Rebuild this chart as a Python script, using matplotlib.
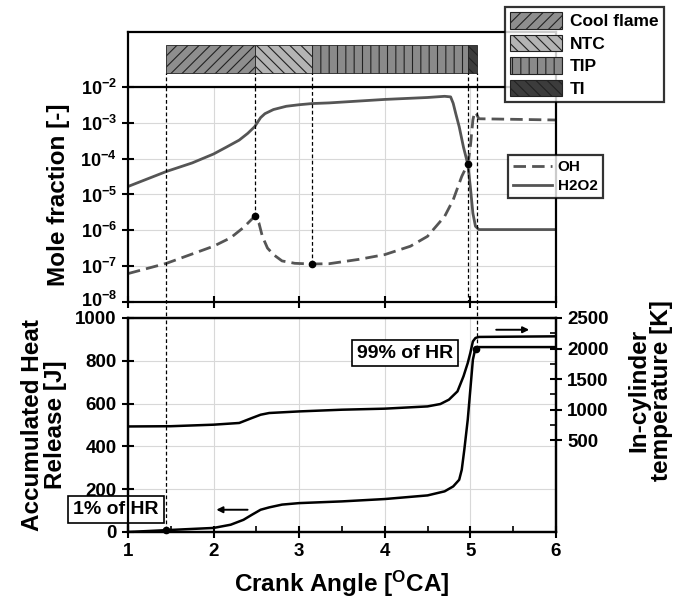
import numpy as np
import matplotlib
matplotlib.use("Agg")
import matplotlib.pyplot as plt
from matplotlib.patches import Patch
from matplotlib.transforms import blended_transform_factory, ScaledTranslation

# =========================================================
# STYLE
# =========================================================
plt.rcParams["font.family"] = ["Liberation Sans", "DejaVu Sans"]
plt.rcParams["font.weight"] = "bold"
plt.rcParams["mathtext.fontset"] = "custom"
plt.rcParams["mathtext.rm"] = "Liberation Sans:bold"
plt.rcParams["mathtext.bf"] = "Liberation Sans:bold"
plt.rcParams["mathtext.it"] = "Liberation Sans:bold"
plt.rcParams["mathtext.default"] = "regular"
plt.rcParams["hatch.linewidth"] = 0.8

# =========================================================
# DATA
# =========================================================
# combustion phases (crank angle limits)
phase_names = ["Cool flame", "NTC", "TIP", "TI"]
phase_start = [1.45, 2.48, 3.15, 4.97]
phase_end = [2.48, 3.15, 4.97, 5.08]
phase_colors = ["#8e8e8e", "#b4b4b4", "#8a8a8a", "#3c3c3c"]
phase_hatch = ["///", "\\\\\\", "||", "\\\\\\"]

# species mole fractions
h2o2_ca = [1.0, 1.45, 1.75, 2.0, 2.15, 2.3, 2.4, 2.48, 2.55, 2.6, 2.7,
           2.85, 3.0, 3.15, 3.35, 4.0, 4.5, 4.7, 4.77, 4.8, 4.83, 4.87,
           4.92, 4.97, 5.0, 5.03, 5.06, 5.1, 6.0]
h2o2 = [1.67e-5, 4.4e-5, 7.6e-5, 1.35e-4, 2.1e-4, 3.3e-4, 5.1e-4, 7.8e-4,
        1.4e-3, 1.8e-3, 2.35e-3, 2.9e-3, 3.2e-3, 3.45e-3, 3.6e-3, 4.5e-3,
        5.1e-3, 5.5e-3, 5.3e-3, 3.5e-3, 1.8e-3, 7.8e-4, 2.1e-4, 7.1e-5,
        1.65e-5, 3.0e-6, 1.3e-6, 1.05e-6, 1.05e-6]

oh_ca = [1.0, 1.45, 2.0, 2.2, 2.35, 2.48, 2.53, 2.57, 2.63, 2.7, 2.8, 2.95,
         3.15, 3.35, 3.7, 4.0, 4.3, 4.5, 4.7, 4.8, 4.9, 4.97, 5.0, 5.03,
         5.05, 5.07, 5.1, 6.0]
oh = [6.2e-8, 1.2e-7, 3.6e-7, 6.2e-7, 1.2e-6, 2.45e-6, 1.6e-6, 6.8e-7,
      3.2e-7, 2.1e-7, 1.4e-7, 1.2e-7, 1.15e-7, 1.17e-7, 1.55e-7, 2.1e-7,
      3.6e-7, 6.8e-7, 2.45e-6, 7.1e-6, 3.2e-5, 7.1e-5, 2.1e-4, 1.2e-3,
      2.0e-3, 1.8e-3, 1.3e-3, 1.2e-3]

# accumulated heat release [J]
hr_ca = [1.0, 1.45, 2.0, 2.2, 2.35, 2.45, 2.55, 2.65, 2.8, 3.0, 3.5, 4.0,
         4.5, 4.7, 4.8, 4.87, 4.9, 4.93, 4.97, 5.0, 5.03, 5.06, 5.08, 6.0]
hr = [0, 8.7, 19, 34, 57, 81, 104, 115, 128, 135, 143, 154, 171, 190, 213,
      244, 291, 385, 525, 665, 805, 860, 864, 864]

# in-cylinder temperature [K]
t_ca = [1.0, 1.5, 2.0, 2.3, 2.45, 2.55, 2.65, 3.0, 3.5, 4.0, 4.5, 4.65,
        4.75, 4.85, 4.92, 4.97, 5.0, 5.03, 5.06, 5.1, 6.0]
temp = [726, 730, 755, 783, 865, 918, 946, 972, 1000, 1017, 1054, 1093,
        1164, 1300, 1545, 1764, 1928, 2117, 2173, 2190, 2200]

# marked points
oh_peak = (2.48, 2.45e-6)
oh_min = (3.15, 1.15e-7)
cross_pt = (4.97, 7.1e-5)
hr_1pct = (1.45, 8.7)
hr_99pct = (5.07, 855)

# =========================================================
# FIGURE
# =========================================================
fig = plt.figure(figsize=(6.88, 6.08), dpi=100)

L, W = 0.186, 0.622
ax_bar = fig.add_axes([L, 0.857, W, 0.0905])
ax_mf = fig.add_axes([L, 0.5033, W, 0.3536])
ax_hr = fig.add_axes([L, 0.125, W, 0.352])
ax_t = ax_hr.twinx()

for ax in [ax_bar, ax_mf, ax_hr, ax_t]:
    for sp in ax.spines.values():
        sp.set_linewidth(1.6)

dash = (0, (3, 2))
label_fs = 17.5
tick_fs = 13.5

# ---------- phase bars ----------
ax_bar.set_xlim(1, 6)
ax_bar.set_ylim(0, 1)
ax_bar.set_xticks([])
ax_bar.set_yticks([])
ax_bar.spines["bottom"].set_visible(False)

for s, e, c, h in zip(phase_start, phase_end, phase_colors, phase_hatch):
    ax_bar.bar(s, 0.51, width=e - s, bottom=0.25, align="edge", color=c,
               edgecolor="#222222", hatch=h, linewidth=0.6)

for x in phase_start + [phase_end[-1]]:
    ax_bar.plot([x, x], [0, 0.25], color="black", lw=0.9, ls=dash)

handles = [Patch(facecolor=c, edgecolor="#222222", hatch=h, linewidth=0.8)
           for c, h in zip(phase_colors, phase_hatch)]
leg1 = fig.legend(handles, phase_names, loc="upper left",
                  bbox_to_anchor=(505 / 688, 1 - 7 / 608),
                  frameon=True, fancybox=False, edgecolor="black",
                  fontsize=12.5, handlelength=3.0, handleheight=1.1,
                  labelspacing=0.3, borderpad=0.3, handletextpad=0.45,
                  borderaxespad=0)
leg1.get_frame().set_linewidth(1.6)

# ---------- mole fractions ----------
ax_mf.set_yscale("log")
ax_mf.set_xlim(1, 6)
ax_mf.set_ylim(1e-8, 1e-2)
ax_mf.plot(oh_ca, oh, color="#555555", lw=2.0, ls=(0, (4.5, 2.2)), label="OH")
ax_mf.plot(h2o2_ca, h2o2, color="#555555", lw=2.0, label="H2O2")
ax_mf.grid(True, which="major", color="#d8d8d8", lw=0.8)
ax_mf.set_axisbelow(True)
ax_mf.set_xticks([1, 2, 3, 4, 5, 6])
ax_mf.set_xticklabels([])
ax_mf.set_yticks([10.0 ** k for k in range(-8, -1)])
ax_mf.set_yticklabels([r"$10^{%d}$" % k for k in range(-8, -1)])
ax_mf.tick_params(axis="both", which="major", direction="inout", length=9,
                  width=1.5, labelsize=13)
ax_mf.tick_params(axis="y", which="minor", direction="in", length=4,
                  width=1.0)
ax_mf.tick_params(axis="x", which="minor", bottom=False)
ax_mf.set_ylabel("Mole fraction [-]", fontsize=label_fs, fontweight="bold")
ax_mf.yaxis.set_label_coords(-0.135, 0.5)

# lift the lowest decade label a little so it clears the "1000" below
lowest = ax_mf.yaxis.get_major_ticks()[0].label1
lowest.set_transform(lowest.get_transform()
                     + ScaledTranslation(0, 2 / 72, fig.dpi_scale_trans))

leg2 = fig.legend(*ax_mf.get_legend_handles_labels(), loc="upper left",
                  bbox_to_anchor=(508 / 688, 1 - 155 / 608),
                  frameon=True, fancybox=False, edgecolor="black",
                  fontsize=11, handlelength=2.5, labelspacing=0.3,
                  borderpad=0.35, handletextpad=0.4, borderaxespad=0)
leg2.get_frame().set_linewidth(1.6)

# dashed guide lines and marked points
tr_mf = blended_transform_factory(ax_mf.transData, ax_mf.transAxes)
gap = 16 / 215
ax_mf.plot([hr_1pct[0]] * 2, [1, -gap], color="black", lw=0.9, ls=dash,
           transform=tr_mf, clip_on=False)
ax_mf.plot([hr_99pct[0] + 0.01] * 2, [1, -gap], color="black", lw=0.9,
           ls=dash, transform=tr_mf, clip_on=False)
ax_mf.plot([cross_pt[0]] * 2, [1, 0], color="black", lw=0.9, ls=dash,
           transform=tr_mf)
for px, py in [oh_peak, oh_min]:
    ax_mf.plot([px, px], [py, 1e-2], color="black", lw=0.9, ls=dash)
for px, py in [oh_peak, oh_min, cross_pt]:
    ax_mf.plot(px, py, "o", color="black", ms=4.5, zorder=5)

# ---------- heat release and temperature ----------
ax_hr.set_xlim(1, 6)
ax_hr.set_ylim(0, 1000)
ax_hr.plot(hr_ca, hr, color="black", lw=1.8)
ax_t.set_ylim(-1000, 2500)
ax_t.plot(t_ca, temp, color="black", lw=1.8)

ax_hr.grid(True, which="major", color="#d8d8d8", lw=0.8)
ax_hr.set_axisbelow(True)
ax_hr.set_xticks([1, 2, 3, 4, 5, 6])
ax_hr.set_xticks([1.5, 2.5, 3.5, 4.5, 5.5], minor=True)
ax_hr.set_yticks([0, 200, 400, 600, 800, 1000])
ax_hr.tick_params(axis="both", which="major", direction="inout", length=9,
                  width=1.5, labelsize=tick_fs)
ax_hr.tick_params(axis="x", which="minor", direction="in", length=4,
                  width=1.2)
ax_t.set_yticks([500, 1000, 1500, 2000, 2500])
ax_t.set_yticks([750, 1250, 1750, 2250], minor=True)
ax_t.tick_params(axis="y", which="major", direction="inout", length=9,
                 width=1.5, labelsize=tick_fs)
ax_t.tick_params(axis="y", which="minor", direction="in", length=4,
                 width=1.2)

ax_hr.set_xlabel(r"Crank Angle [$^{O}$CA]", fontsize=label_fs,
                 fontweight="bold", labelpad=6)
ax_hr.set_ylabel("Accumulated Heat\nRelease [J]", fontsize=label_fs,
                 fontweight="bold", linespacing=1.0)
ax_hr.yaxis.set_label_coords(-0.143, 0.5)
ax_t.set_ylabel("In-cylinder\ntemperature [K]", fontsize=label_fs,
                fontweight="bold", linespacing=1.0)
ax_t.yaxis.set_label_coords(1.166, 0.66)

ax_hr.plot([hr_1pct[0]] * 2, [hr_1pct[1], 1000], color="black", lw=0.9,
           ls=dash)
ax_hr.plot([hr_99pct[0] + 0.01] * 2, [hr_99pct[1], 1000], color="black",
           lw=0.9, ls=dash)
for px, py in [hr_1pct, hr_99pct]:
    ax_hr.plot(px, py, "o", color="black", ms=4.5, zorder=5, clip_on=False)

box = dict(boxstyle="square,pad=0.25", facecolor="white", edgecolor="black",
           linewidth=1.2)
ax_hr.text(4.24, 836, "99% of HR", fontsize=14, ha="center", va="center",
           bbox=box, zorder=6)
ax_hr.text(0.86, 106, "1% of HR", fontsize=14, ha="center", va="center",
           bbox=box, zorder=6, clip_on=False)

ax_hr.annotate("", xy=(2.0, 104), xytext=(2.43, 104),
               arrowprops=dict(arrowstyle="-|>", color="black", lw=1.4,
                               mutation_scale=9))
ax_hr.annotate("", xy=(5.72, 945), xytext=(5.27, 945),
               arrowprops=dict(arrowstyle="-|>", color="black", lw=1.4,
                               mutation_scale=9))

fig.savefig("out.png", dpi=100)
